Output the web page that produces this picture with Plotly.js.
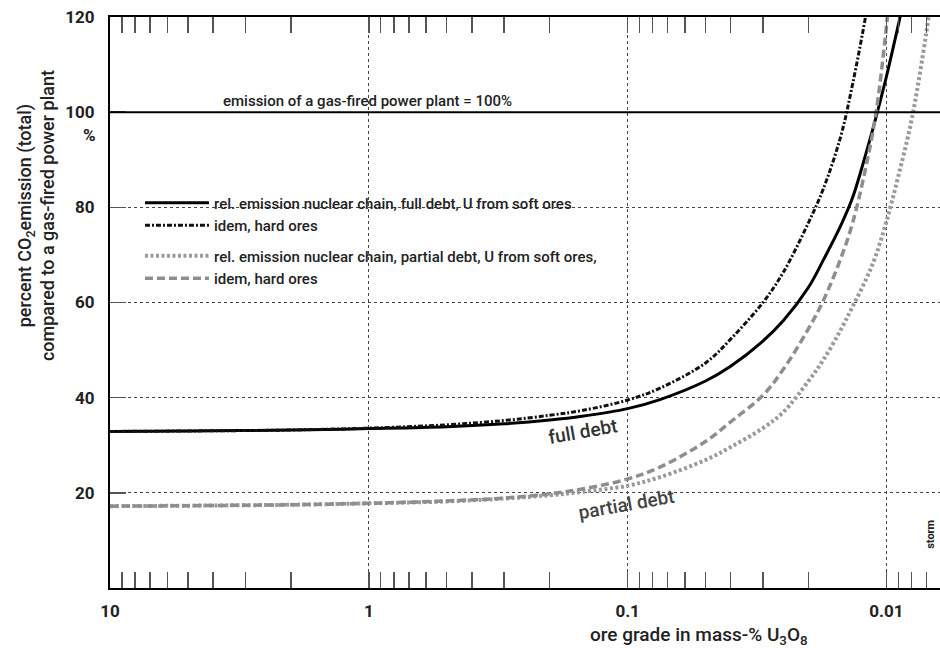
<!DOCTYPE html>
<html>
<head>
<meta charset="utf-8">
<script src="https://cdn.plot.ly/plotly-3.0.1.min.js"></script>
<style>
  html, body { margin: 0; padding: 0; background: #fff; }
  #chart { width: 940px; height: 652px; }
</style>
</head>
<body>
<div id="chart"></div>
<script>
// ---- data (ore grade in mass-% U3O8 -> % CO2 vs gas plant) ----
const gradesFullSoft = [10, 5, 2, 1, 0.5, 0.3, 0.2, 0.15, 0.1, 0.075, 0.05, 0.04, 0.03, 0.025, 0.02, 0.0175, 0.015, 0.0135, 0.012, 0.011, 0.01, 0.009, 0.008];
const fullSoft       = [32.9, 33.0, 33.2, 33.5, 33.9, 34.5, 35.3, 36.1, 37.7, 39.6, 43.5, 46.6, 51.9, 56.2, 63.2, 69.0, 76.2, 82.1, 91.3, 98.7, 107.5, 118.3, 131];

const gradesFullHard = [10, 5, 2, 1, 0.5, 0.3, 0.2, 0.15, 0.1, 0.075, 0.05, 0.04, 0.03, 0.025, 0.02, 0.0175, 0.015, 0.0135, 0.012, 0.011];
const fullHard       = [32.9, 33.0, 33.2, 33.6, 34.3, 35.2, 36.3, 37.3, 39.5, 42.0, 47.3, 52.3, 60.0, 66.4, 76.8, 84.0, 95.0, 106.0, 120.5, 133.0];

const gradesPartSoft = [10, 5, 2, 1, 0.5, 0.3, 0.2, 0.15, 0.1, 0.075, 0.05, 0.04, 0.03, 0.025, 0.02, 0.0175, 0.015, 0.0135, 0.012, 0.011, 0.01, 0.009, 0.008, 0.007, 0.0065];
const partSoft       = [17.2, 17.3, 17.5, 17.8, 18.2, 18.8, 19.5, 20.2, 21.5, 23.3, 26.9, 29.6, 33.6, 37.0, 43.5, 48.0, 54.3, 59.2, 64.8, 69.8, 77.0, 86.5, 98.3, 117.0, 130.0];

const gradesPartHard = [10, 5, 2, 1, 0.5, 0.3, 0.2, 0.15, 0.1, 0.075, 0.05, 0.04, 0.03, 0.025, 0.02, 0.0175, 0.015, 0.0135, 0.012, 0.011, 0.01, 0.009];
const partHard       = [17.2, 17.3, 17.5, 17.8, 18.3, 18.9, 19.8, 20.8, 22.9, 25.4, 30.8, 34.9, 40.5, 46.0, 54.5, 60.5, 69.3, 76.8, 88.5, 99.5, 118.0, 145.0];

const gasPlantLevel = 100;

const xTickVals  = [10, 1, 0.1, 0.01];
const xTickText  = ['10', '1', '0.1', '0.01'];
const xMinorVals = [9,8,7,6,5,4,3,2, 0.9,0.8,0.7,0.6,0.5,0.4,0.3,0.2, 0.09,0.08,0.07,0.06,0.05,0.04,0.03,0.02, 0.009,0.008,0.007];
const yTickVals  = [20, 40, 60, 80, 100, 120];

const legendNames = [
  'rel. emission nuclear chain, full debt, U from soft ores',
  'idem, hard ores',
  'rel. emission nuclear chain, partial debt, U from soft ores,',
  'idem, hard ores'
];

// ---- styling ----
const FONT = 'Roboto, "DejaVu Sans", sans-serif';
const TXT = '#222';

const traces = [
  { x: gradesFullSoft, y: fullSoft, name: legendNames[0], legendgroup: 'full',
    mode: 'lines', line: { color: '#000', width: 3, shape: 'spline', smoothing: 1 } },
  { x: gradesFullHard, y: fullHard, name: legendNames[1], legendgroup: 'full',
    mode: 'lines', line: { color: '#111', width: 3, dash: '5px,2px,2px,2px', shape: 'spline', smoothing: 1 } },
  { x: gradesPartSoft, y: partSoft, name: legendNames[2], legendgroup: 'partial',
    mode: 'lines', line: { color: '#9a9a9a', width: 4, dash: '3px,2.5px', shape: 'spline', smoothing: 1 } },
  { x: gradesPartHard, y: partHard, name: legendNames[3], legendgroup: 'partial',
    mode: 'lines', line: { color: '#8e8e8e', width: 3.5, dash: '8px,4px', shape: 'spline', smoothing: 1 } }
];

const layout = {
  width: 940, height: 652,
  margin: { l: 110, r: 0, t: 17, b: 64 },
  paper_bgcolor: '#fff', plot_bgcolor: '#fff',
  font: { family: FONT, color: TXT, size: 15, weight: 500 },
  showlegend: true,
  legend: {
    x: 0.0361, y: 0.703, xanchor: 'left', yanchor: 'top',
    bgcolor: 'rgba(0,0,0,0)', borderwidth: 0,
    traceorder: 'grouped', tracegroupgap: 8, itemwidth: 64,
    font: { family: FONT, size: 15, color: TXT, weight: 500 }
  },
  xaxis: {
    type: 'log', range: [1, -2.207], autorange: false,
    tickmode: 'array', tickvals: xTickVals, ticktext: xTickText,
    ticks: 'inside', ticklen: 16, tickwidth: 1.5, tickcolor: '#555',
    showline: true, linecolor: '#000', linewidth: 2, mirror: 'ticks',
    showgrid: true, gridcolor: '#444', gridwidth: 1, griddash: 'dot',
    zeroline: false,
    ticklabelstandoff: 7,
    tickfont: { family: FONT, size: 17, color: TXT, weight: 700 },
    minor: { tickmode: 'array', tickvals: xMinorVals, ticks: 'inside', ticklen: 16, tickwidth: 1.5, tickcolor: '#555', showgrid: false }
  },
  yaxis: {
    range: [0, 120], autorange: false,
    tickmode: 'array', tickvals: yTickVals,
    ticks: 'inside', ticklen: 16, tickwidth: 1.5, tickcolor: '#555',
    showline: true, linecolor: '#000', linewidth: 2, mirror: false,
    showgrid: true, gridcolor: '#444', gridwidth: 1, griddash: 'dot',
    zeroline: false,
    ticklabelstandoff: 10,
    tickfont: { family: FONT, size: 17, color: TXT, weight: 700 }
  },
  shapes: [
    { type: 'line', xref: 'paper', x0: 0, x1: 1, yref: 'y', y0: gasPlantLevel, y1: gasPlantLevel,
      line: { color: '#000', width: 2 } }
  ],
  annotations: [
    { text: 'emission of a gas-fired power plant = 100%', xref: 'paper', x: 0.134, xanchor: 'left',
      yref: 'y', y: gasPlantLevel, yanchor: 'bottom', yshift: 0, showarrow: false,
      font: { family: FONT, size: 15, color: TXT, weight: 500 } },
    { text: '%', xref: 'paper', x: -0.0145, xanchor: 'right', yref: 'paper', y: 0.793, yanchor: 'middle',
      showarrow: false, font: { family: FONT, size: 17, color: TXT, weight: 700 } },
    { text: 'percent CO<sub>2</sub>emission (total)<br>compared to a gas-fired power plant',
      xref: 'paper', x: -0.0892, xanchor: 'center', yref: 'paper', y: 0.653, yanchor: 'middle',
      textangle: -90, showarrow: false, font: { family: FONT, size: 18, color: TXT, weight: 500 } },
    { text: 'ore grade in mass-% U<sub>3</sub>O<sub>8</sub>', xref: 'paper', x: 0.7096, xanchor: 'center',
      yref: 'paper', y: -0.084, yanchor: 'middle', showarrow: false,
      font: { family: FONT, size: 19, color: TXT, weight: 500 } },
    { text: 'full debt', xref: 'paper', x: 0.570, xanchor: 'center', yref: 'paper', y: 0.274, yanchor: 'middle',
      textangle: -10, showarrow: false, font: { family: FONT, size: 19, color: '#333', weight: 500 } },
    { text: 'partial debt', xref: 'paper', x: 0.6217, xanchor: 'center', yref: 'paper', y: 0.1454, yanchor: 'middle',
      textangle: -10, showarrow: false, font: { family: FONT, size: 19, color: '#444', weight: 500 } },
    { text: 'storm', xref: 'paper', x: 0.989, xanchor: 'center', yref: 'paper', y: 0.0946, yanchor: 'middle',
      textangle: -90, showarrow: false, font: { family: FONT, size: 11, color: TXT, weight: 700 } }
  ]
};

Plotly.newPlot('chart', traces, layout, { displayModeBar: false, staticPlot: true });
</script>
</body>
</html>
